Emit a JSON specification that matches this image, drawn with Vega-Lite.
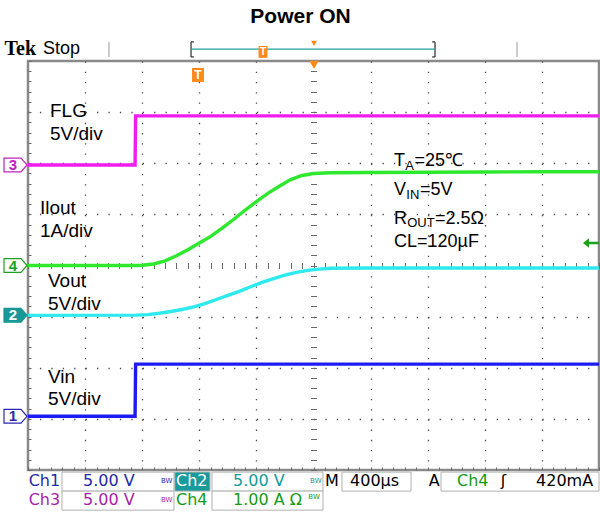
{
  "$schema": "https://vega.github.io/schema/vega-lite/v6.json",
  "width": 571,
  "height": 409,
  "autosize": {"type": "none"},
  "padding": {"left": 28, "top": 61, "right": 1, "bottom": 42},
  "background": "white",
  "config": {"view": {"stroke": "#8a8a8a", "strokeWidth": 2.5}},
  "datasets": {
    "traces": [
      {"ch": "FLG", "x": -5, "y": 1.967}, {"ch": "FLG", "x": -3.125, "y": 1.967}, {"ch": "FLG", "x": -3.115, "y": 2.926}, {"ch": "FLG", "x": 5, "y": 2.926},
      {"ch": "Vin", "x": -5, "y": -2.95}, {"ch": "Vin", "x": -3.125, "y": -2.95}, {"ch": "Vin", "x": -3.115, "y": -1.93}, {"ch": "Vin", "x": 5, "y": -1.93},
      {"ch": "Iout", "x": -5, "y": 0}, {"ch": "Iout", "x": -3.1, "y": 0}, {"ch": "Iout", "x": -3.0, "y": 0.005}, {"ch": "Iout", "x": -2.8, "y": 0.03},
      {"ch": "Iout", "x": -2.6, "y": 0.09}, {"ch": "Iout", "x": -2.4, "y": 0.19}, {"ch": "Iout", "x": -2.2, "y": 0.31}, {"ch": "Iout", "x": -2.0, "y": 0.44},
      {"ch": "Iout", "x": -1.8, "y": 0.57}, {"ch": "Iout", "x": -1.6, "y": 0.73}, {"ch": "Iout", "x": -1.4, "y": 0.9}, {"ch": "Iout", "x": -1.2, "y": 1.08},
      {"ch": "Iout", "x": -1.0, "y": 1.25}, {"ch": "Iout", "x": -0.8, "y": 1.41}, {"ch": "Iout", "x": -0.6, "y": 1.55}, {"ch": "Iout", "x": -0.4, "y": 1.68},
      {"ch": "Iout", "x": -0.2, "y": 1.76}, {"ch": "Iout", "x": 0, "y": 1.8}, {"ch": "Iout", "x": 0.3, "y": 1.815}, {"ch": "Iout", "x": 1, "y": 1.82},
      {"ch": "Iout", "x": 2, "y": 1.825}, {"ch": "Iout", "x": 3, "y": 1.83}, {"ch": "Iout", "x": 4, "y": 1.835}, {"ch": "Iout", "x": 5, "y": 1.835},
      {"ch": "Vout", "x": -5, "y": -0.975}, {"ch": "Vout", "x": -3.1, "y": -0.97}, {"ch": "Vout", "x": -2.9, "y": -0.96}, {"ch": "Vout", "x": -2.7, "y": -0.935},
      {"ch": "Vout", "x": -2.5, "y": -0.9}, {"ch": "Vout", "x": -2.3, "y": -0.86}, {"ch": "Vout", "x": -2.1, "y": -0.81}, {"ch": "Vout", "x": -1.9, "y": -0.745},
      {"ch": "Vout", "x": -1.7, "y": -0.665}, {"ch": "Vout", "x": -1.5, "y": -0.585}, {"ch": "Vout", "x": -1.3, "y": -0.505}, {"ch": "Vout", "x": -1.1, "y": -0.415},
      {"ch": "Vout", "x": -0.9, "y": -0.33}, {"ch": "Vout", "x": -0.7, "y": -0.255}, {"ch": "Vout", "x": -0.5, "y": -0.19}, {"ch": "Vout", "x": -0.3, "y": -0.135},
      {"ch": "Vout", "x": -0.1, "y": -0.095}, {"ch": "Vout", "x": 0.1, "y": -0.07}, {"ch": "Vout", "x": 0.3, "y": -0.055}, {"ch": "Vout", "x": 1, "y": -0.05},
      {"ch": "Vout", "x": 3, "y": -0.05}, {"ch": "Vout", "x": 5, "y": -0.05}
    ],
    "labels": [
      {"t": "FLG", "x": -4.615, "y": 3.03}, {"t": "5V/div", "x": -4.615, "y": 2.57},
      {"t": "Ilout", "x": -4.79, "y": 1.12}, {"t": "1A/div", "x": -4.79, "y": 0.67},
      {"t": "Vout", "x": -4.65, "y": -0.3}, {"t": "5V/div", "x": -4.65, "y": -0.76},
      {"t": "Vin", "x": -4.65, "y": -2.172}, {"t": "5V/div", "x": -4.65, "y": -2.603}
    ],
    "cond": [
      {"t": "T", "x": 1.41, "y": 2.035}, {"t": "=25℃", "x": 1.769, "y": 2.035},
      {"t": "V", "x": 1.41, "y": 1.468}, {"t": "=5V", "x": 1.866, "y": 1.468},
      {"t": "R", "x": 1.41, "y": 0.9}, {"t": "=2.5Ω", "x": 2.128, "y": 0.9},
      {"t": "CL=120µF", "x": 1.41, "y": 0.45}
    ],
    "subs": [
      {"t": "A", "x": 1.608, "y": 1.947}, {"t": "IN", "x": 1.625, "y": 1.38}, {"t": "OUT", "x": 1.642, "y": 0.841}
    ],
    "markers": [
      {"m": "3", "x": -5.219, "y": 1.967}, {"m": "4", "x": -5.219, "y": 0},
      {"m": "2", "x": -5.219, "y": -0.975}, {"m": "1", "x": -5.219, "y": -2.95}
    ],
    "markerText": [
      {"t": "3", "x": -5.263, "y": 1.967}, {"t": "4", "x": -5.263, "y": 0},
      {"t": "2", "x": -5.263, "y": -0.975}, {"t": "1", "x": -5.263, "y": -2.95}
    ],
    "boxes": [
      {"k": "box", "x": -4.405, "x2": -2.443, "y": -4.041, "y2": -4.413},
      {"k": "ch2", "x": -2.428, "x2": -1.813, "y": -4.041, "y2": -4.413},
      {"k": "box", "x": -1.778, "x2": 0.166, "y": -4.041, "y2": -4.413},
      {"k": "box", "x": 0.499, "x2": 1.708, "y": -4.041, "y2": -4.413},
      {"k": "box", "x": 2.233, "x2": 5.0, "y": -4.041, "y2": -4.413},
      {"k": "box", "x": -4.405, "x2": -2.443, "y": -4.413, "y2": -4.785},
      {"k": "box", "x": -1.778, "x2": 0.166, "y": -4.413, "y2": -4.785}
    ],
    "header": [
      {"k": "br", "x": -2.145, "x2": -2.145, "y": 4.08, "y2": 4.374},
      {"k": "br", "x": -2.145, "x2": -2.095, "y": 4.374, "y2": 4.374},
      {"k": "br", "x": -2.145, "x2": -2.095, "y": 4.08, "y2": 4.08},
      {"k": "br", "x": 2.128, "x2": 2.128, "y": 4.08, "y2": 4.374},
      {"k": "br", "x": 2.078, "x2": 2.128, "y": 4.374, "y2": 4.374},
      {"k": "br", "x": 2.078, "x2": 2.128, "y": 4.08, "y2": 4.08},
      {"k": "pos", "x": -2.145, "x2": 2.128, "y": 4.231, "y2": 4.231},
      {"k": "sep", "x": -3.582, "x2": -3.582, "y": 4.08, "y2": 4.374},
      {"k": "sep", "x": 3.564, "x2": 3.564, "y": 4.08, "y2": 4.374}
    ],
    "status": [
      {"t": "Ch1", "c": "ch1", "x": -4.988, "y": -4.217},
      {"t": "5.00 V", "c": "ch1", "x": -4.037, "y": -4.217},
      {"t": "Ch2", "c": "w", "x": -2.408, "y": -4.217},
      {"t": "5.00 V", "c": "ch2", "x": -1.41, "y": -4.217},
      {"t": "M", "c": "k", "x": 0.2, "y": -4.217},
      {"t": "400µs", "c": "k", "x": 0.64, "y": -4.217},
      {"t": "A", "c": "k", "x": 2.02, "y": -4.217},
      {"t": "Ch4", "c": "ch4", "x": 2.513, "y": -4.217},
      {"t": "ʃ", "c": "k", "x": 3.28, "y": -4.217},
      {"t": "420mA", "c": "k", "x": 3.897, "y": -4.217},
      {"t": "Ch3", "c": "ch3", "x": -4.988, "y": -4.589},
      {"t": "5.00 V", "c": "ch3", "x": -4.037, "y": -4.589},
      {"t": "Ch4", "c": "ch4", "x": -2.408, "y": -4.589},
      {"t": "1.00 A Ω", "c": "ch4", "x": -1.41, "y": -4.589}
    ],
    "bw": [
      {"t": "BW", "c": "ch1", "x": -2.67, "y": -4.217},
      {"t": "BW", "c": "ch2", "x": -0.06, "y": -4.217},
      {"t": "BW", "c": "ch3", "x": -2.67, "y": -4.589},
      {"t": "BW", "c": "ch4", "x": -0.09, "y": -4.52}
    ]
  },
  "encoding": {
    "x": {"field": "x", "type": "quantitative", "scale": {"domain": [-5, 5], "nice": false, "zero": false}, "axis": null},
    "y": {"field": "y", "type": "quantitative", "scale": {"domain": [-4, 4], "nice": false, "zero": false}, "axis": null}
  },
  "resolve": {
    "axis": {"x": "independent", "y": "independent"},
    "scale": {"color": "independent", "fill": "independent", "stroke": "independent"}
  },
  "layer": [
    {
      "data": {"values": [{}]},
      "mark": {"type": "rule", "color": "#7a7a7a", "strokeWidth": 1, "strokeDash": [1, 1.4]},
      "encoding": {
        "x": {"datum": -5, "type": "quantitative", "scale": {"domain": [-5, 5], "nice": false, "zero": false},
          "axis": {"orient": "top", "offset": -207.5, "tickSize": 6, "labels": false, "domain": false, "grid": false, "tickColor": "#6a6a6a", "tickWidth": 1, "title": null,
            "values": [-5,-4.8,-4.6,-4.4,-4.2,-4,-3.8,-3.6,-3.4,-3.2,-3,-2.8,-2.6,-2.4,-2.2,-2,-1.8,-1.6,-1.4,-1.2,-1,-0.8,-0.6,-0.4,-0.2,0,0.2,0.4,0.6,0.8,1,1.2,1.4,1.6,1.8,2,2.2,2.4,2.6,2.8,3,3.2,3.4,3.6,3.8,4,4.2,4.4,4.6,4.8,5]}},
        "x2": {"datum": 5},
        "y": {"datum": 0, "type": "quantitative", "scale": {"domain": [-4, 4], "nice": false, "zero": false}, "axis": null}
      }
    },
    {
      "data": {"values": [{}]},
      "mark": {"type": "rule", "color": "#7a7a7a", "strokeWidth": 1, "strokeDash": [1, 1.4]},
      "encoding": {
        "x": {"datum": 0, "type": "quantitative", "scale": {"domain": [-5, 5], "nice": false, "zero": false}, "axis": null},
        "y": {"datum": -4, "type": "quantitative", "scale": {"domain": [-4, 4], "nice": false, "zero": false},
          "axis": {"orient": "right", "offset": -288.5, "tickSize": 6, "labels": false, "domain": false, "grid": false, "tickColor": "#6a6a6a", "tickWidth": 1, "title": null,
            "values": [-4,-3.8,-3.6,-3.4,-3.2,-3,-2.8,-2.6,-2.4,-2.2,-2,-1.8,-1.6,-1.4,-1.2,-1,-0.8,-0.6,-0.4,-0.2,0,0.2,0.4,0.6,0.8,1,1.2,1.4,1.6,1.8,2,2.2,2.4,2.6,2.8,3,3.2,3.4,3.6,3.8,4]}},
        "y2": {"datum": 4}
      }
    },
    {
      "data": {"name": "traces"},
      "mark": {"type": "line", "strokeWidth": 3.4},
      "encoding": {
        "x": {"field": "x", "type": "quantitative", "scale": {"domain": [-5, 5], "nice": false, "zero": false},
          "axis": {"orient": "bottom", "labels": false, "domain": false, "title": null, "tickSize": -3, "tickColor": "#6a6a6a", "tickWidth": 1,
            "grid": true, "gridColor": "#4a4a4a", "gridWidth": 1.3, "gridDash": [1.3, 8.925],
            "gridOpacity": {"condition": {"test": "abs(datum.value - round(datum.value)) < 0.01 && abs(datum.value) > 0.5 && abs(datum.value) < 4.5", "value": 1}, "value": 0},
            "values": [-5,-4.8,-4.6,-4.4,-4.2,-4,-3.8,-3.6,-3.4,-3.2,-3,-2.8,-2.6,-2.4,-2.2,-2,-1.8,-1.6,-1.4,-1.2,-1,-0.8,-0.6,-0.4,-0.2,0,0.2,0.4,0.6,0.8,1,1.2,1.4,1.6,1.8,2,2.2,2.4,2.6,2.8,3,3.2,3.4,3.6,3.8,4,4.2,4.4,4.6,4.8,5]}},
        "y": {"field": "y", "type": "quantitative", "scale": {"domain": [-4, 4], "nice": false, "zero": false},
          "axis": {"orient": "left", "labels": false, "domain": false, "title": null, "tickSize": -3, "tickColor": "#6a6a6a", "tickWidth": 1,
            "grid": true, "gridColor": "#4a4a4a", "gridWidth": 1.3, "gridDash": [1.3, 10.12],
            "gridOpacity": {"condition": {"test": "abs(datum.value - round(datum.value)) < 0.01 && abs(datum.value) > 0.5 && abs(datum.value) < 3.5", "value": 1}, "value": 0},
            "values": [-4,-3.8,-3.6,-3.4,-3.2,-3,-2.8,-2.6,-2.4,-2.2,-2,-1.8,-1.6,-1.4,-1.2,-1,-0.8,-0.6,-0.4,-0.2,0,0.2,0.4,0.6,0.8,1,1.2,1.4,1.6,1.8,2,2.2,2.4,2.6,2.8,3,3.2,3.4,3.6,3.8,4]}},
        "color": {"field": "ch", "type": "nominal", "legend": null,
          "scale": {"domain": ["FLG", "Iout", "Vout", "Vin"], "range": ["#f01cf0", "#2ee82e", "#2eeaee", "#1c1cf2"]}}
      }
    },
    {
      "data": {"name": "boxes"},
      "mark": {"type": "rect", "stroke": "#b0b0b0", "strokeWidth": 1},
      "encoding": {
        "x2": {"field": "x2"}, "y2": {"field": "y2"},
        "fill": {"field": "k", "type": "nominal", "legend": null, "scale": {"domain": ["box", "ch2"], "range": ["#ffffff", "#1a9a9a"]}}
      }
    },
    {
      "data": {"name": "header"},
      "mark": {"type": "rule", "strokeWidth": 1.3},
      "encoding": {
        "x2": {"field": "x2"}, "y2": {"field": "y2"},
        "color": {"field": "k", "type": "nominal", "legend": null, "scale": {"domain": ["br", "pos", "sep"], "range": ["#3a3a3a", "#2aa0a0", "#b0b0b0"]}}
      }
    },
    {
      "data": {"name": "markers"},
      "mark": {"type": "point", "shape": "M-1,-0.6L0.48,-0.6L1,0L0.48,0.6L-1,0.6Z", "size": 529, "strokeWidth": 1.2, "opacity": 1, "filled": false},
      "encoding": {
        "stroke": {"field": "m", "type": "nominal", "legend": null, "scale": {"domain": ["1", "2", "3", "4"], "range": ["#2a2ab0", "#1a9898", "#c020c0", "#20a020"]}},
        "fill": {"field": "m", "type": "nominal", "legend": null, "scale": {"domain": ["1", "2", "3", "4"], "range": ["#ffffff", "#1a9898", "#ffffff", "#ffffff"]}},
        "fillOpacity": {"value": 1}
      }
    },
    {
      "data": {"name": "markerText"},
      "mark": {"type": "text", "font": "Liberation Sans", "fontSize": 15, "fontWeight": "bold", "align": "center", "baseline": "middle"},
      "encoding": {
        "text": {"field": "t"},
        "color": {"field": "t", "type": "nominal", "legend": null, "scale": {"domain": ["1", "2", "3", "4"], "range": ["#2a2ab0", "#ffffff", "#c020c0", "#20a020"]}}
      }
    },
    {
      "data": {"values": [{"x": 4.86, "y": 0.44}]},
      "mark": {"type": "point", "shape": "M-1,0L-0.25,-0.6L-0.25,-0.15L1,-0.15L1,0.15L-0.25,0.15L-0.25,0.6Z", "size": 260, "filled": true, "color": "#1fa01f", "opacity": 1}
    },
    {
      "data": {"values": [{"x": -2.023, "y": 3.728}]},
      "mark": {"type": "point", "shape": "M-0.85,-1L0.85,-1L0.85,1L-0.85,1Z", "size": 196, "filled": true, "color": "#ff8a1a", "opacity": 1}
    },
    {
      "data": {"values": [{"x": -0.884, "y": 4.178}]},
      "mark": {"type": "point", "shape": "M-0.75,-1L0.75,-1L0.75,1L-0.75,1Z", "size": 140, "filled": true, "color": "#ff8a1a", "opacity": 1}
    },
    {
      "data": {"values": [{"t": "T", "x": -2.023, "y": 3.728}]},
      "mark": {"type": "text", "font": "Liberation Sans", "fontSize": 12, "fontWeight": "bold", "color": "#ffffff", "align": "center", "baseline": "middle"},
      "encoding": {"text": {"field": "t"}}
    },
    {
      "data": {"values": [{"t": "T", "x": -0.884, "y": 4.178}]},
      "mark": {"type": "text", "font": "Liberation Sans", "fontSize": 10, "fontWeight": "bold", "color": "#ffffff", "align": "center", "baseline": "middle"},
      "encoding": {"text": {"field": "t"}}
    },
    {
      "data": {"values": [{"x": 0.009, "y": 3.924}]},
      "mark": {"type": "point", "shape": "triangle-down", "size": 90, "filled": true, "color": "#ff8a1a", "opacity": 1}
    },
    {
      "data": {"values": [{"x": 0.009, "y": 4.344}]},
      "mark": {"type": "point", "shape": "triangle-down", "size": 35, "filled": true, "color": "#ff8a1a", "opacity": 1}
    },
    {
      "data": {"name": "labels"},
      "mark": {"type": "text", "font": "Liberation Sans", "fontSize": 19, "color": "#000000", "align": "left", "baseline": "middle"},
      "encoding": {"text": {"field": "t"}}
    },
    {
      "data": {"name": "cond"},
      "mark": {"type": "text", "font": "Liberation Sans", "fontSize": 18, "color": "#000000", "align": "left", "baseline": "middle"},
      "encoding": {"text": {"field": "t"}}
    },
    {
      "data": {"name": "subs"},
      "mark": {"type": "text", "font": "Liberation Sans", "fontSize": 13, "color": "#000000", "align": "left", "baseline": "middle"},
      "encoding": {"text": {"field": "t"}}
    },
    {
      "data": {"values": [{"t": "Power ON", "x": -0.228, "y": 4.87}]},
      "mark": {"type": "text", "font": "Liberation Sans", "fontSize": 21, "fontWeight": "bold", "color": "#000000", "align": "center", "baseline": "middle"},
      "encoding": {"text": {"field": "t"}}
    },
    {
      "data": {"values": [{"t": "Tek", "x": -5.41, "y": 4.227}]},
      "mark": {"type": "text", "font": "Liberation Serif", "fontSize": 20, "fontWeight": "bold", "color": "#000000", "align": "left", "baseline": "middle"},
      "encoding": {"text": {"field": "t"}}
    },
    {
      "data": {"values": [{"t": "Stop", "x": -4.737, "y": 4.227}]},
      "mark": {"type": "text", "font": "Liberation Sans", "fontSize": 18, "color": "#000000", "align": "left", "baseline": "middle"},
      "encoding": {"text": {"field": "t"}}
    },
    {
      "data": {"name": "status"},
      "mark": {"type": "text", "font": "DejaVu Sans", "fontSize": 16, "align": "left", "baseline": "middle"},
      "encoding": {
        "text": {"field": "t"},
        "color": {"field": "c", "type": "nominal", "legend": null, "scale": {"domain": ["ch1", "ch2", "ch3", "ch4", "k", "w"], "range": ["#1e2aa8", "#159a9a", "#a81ea8", "#159a15", "#000000", "#ffffff"]}}
      }
    },
    {
      "data": {"name": "bw"},
      "mark": {"type": "text", "font": "DejaVu Sans", "fontSize": 7, "align": "left", "baseline": "middle"},
      "encoding": {
        "text": {"field": "t"},
        "color": {"field": "c", "type": "nominal", "legend": null, "scale": {"domain": ["ch1", "ch2", "ch3", "ch4"], "range": ["#1e2aa8", "#159a9a", "#a81ea8", "#159a15"]}}
      }
    }
  ]
}
